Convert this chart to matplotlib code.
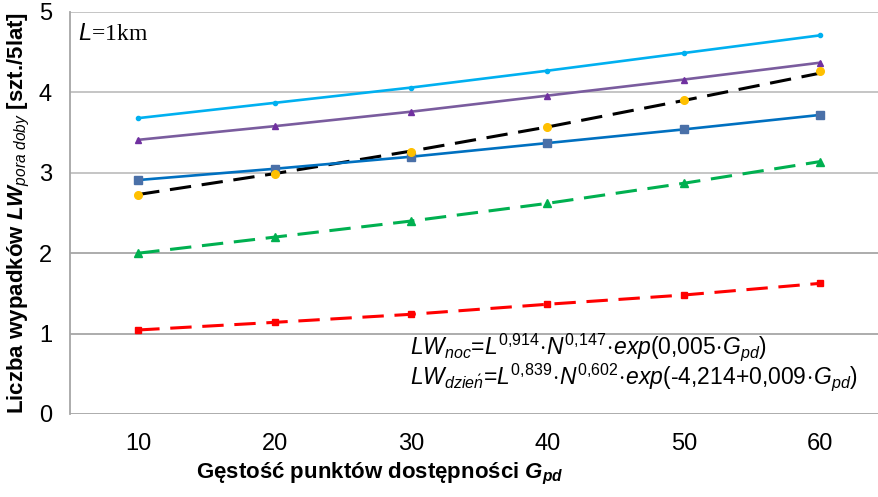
import numpy as np
import matplotlib
matplotlib.use("Agg")
import matplotlib.pyplot as plt

plt.rcParams['font.family'] = ['Liberation Sans', 'DejaVu Sans']
plt.rcParams['mathtext.fontset'] = 'custom'
plt.rcParams['mathtext.rm'] = 'Liberation Sans'
plt.rcParams['mathtext.it'] = 'Liberation Sans:italic'
plt.rcParams['mathtext.bf'] = 'Liberation Sans:bold'
plt.rcParams['mathtext.bfit'] = 'Liberation Sans:bold:italic'

# data
gpd = [10, 20, 30, 40, 50, 60]
light_blue = [3.68, 3.87, 4.06, 4.27, 4.49, 4.71]
purple = [3.41, 3.58, 3.76, 3.96, 4.16, 4.37]
blue = [2.91, 3.05, 3.20, 3.37, 3.54, 3.72]
yellow_pts = [2.73, 2.985, 3.26, 3.57, 3.905, 4.27]
black_fit = [2.73, 2.99, 3.27, 3.57, 3.90, 4.24]
green = [2.00, 2.20, 2.40, 2.62, 2.87, 3.14]
red = [1.045, 1.14, 1.24, 1.365, 1.48, 1.625]
yticks = [0, 1, 2, 3, 4, 5]

fig = plt.figure(figsize=(8.79, 4.97), dpi=100)
ax = fig.add_axes([70/879, 83/497, 809/879, 402/497])

ax.plot(gpd, light_blue, color='#00b0f0', lw=1.9, marker='o', ms=3, zorder=5)
ax.plot(gpd, purple, color='#7a5c9e', lw=1.9, marker='^', ms=4, mfc='#7030a0', mec='#7030a0', zorder=5)
ax.plot(gpd, blue, color='#0070c0', lw=1.9, marker='s', ms=5.5, mfc='#4a70a8', mec='#4a70a8', zorder=5)
ax.plot(gpd, black_fit, color='black', lw=2.2, ls=(0, (7, 3.5)), zorder=4)
ax.plot(gpd, yellow_pts, ls='none', marker='o', ms=5.5, color='#ffc000', zorder=6)
ax.plot(gpd, green, color='#00b050', lw=2.2, ls=(0, (7, 3.5)), marker='^', ms=5.5, zorder=5)
ax.plot(gpd, red, color='#ff0000', lw=2.2, ls=(0, (7, 3.5)), marker='s', ms=5, zorder=5)

ax.set_xlim(5, 64.3)
ax.set_ylim(0, 5)
ax.set_xticks(gpd)
ax.set_yticks(yticks)
ax.tick_params(axis='both', length=0, labelsize=17, colors='black')
ax.tick_params(axis='y', pad=13)
ax.tick_params(axis='x', pad=14)

ax.grid(axis='y', lw=1.3)
for val, gl in zip(yticks, ax.yaxis.get_gridlines()):
    gl.set_color('#a6a6a6' if val <= 2 else '#c0c0c0')
for side in ['top', 'right', 'bottom']:
    ax.spines[side].set_visible(False)
ax.spines['left'].set_color('#a6a6a6')
ax.spines['left'].set_linewidth(1.3)

ax.set_ylabel(r'Liczba wypadków $\mathbfit{LW}_{\mathit{pora\ doby}}$ [szt./5lat]',
              fontsize=16, fontweight='bold', labelpad=5)
fig.text(380/879, 23/497, r'Gęstość punktów dostępności $\mathbfit{G}_{\mathbfit{pd}}$',
         fontsize=16, fontweight='bold', ha='center', va='center')

fig.text(78/879, 463/497, r'$L$=1km', fontsize=17, family='Liberation Serif',
         va='center', ha='left')

f1 = (r'$LW_{noc}\text{=}L^{\text{0,914}}\!\cdot\! N^{\text{0,147}}\!\cdot\!'
      r' exp\mathit{(}\text{0,005}\!\cdot\! G_{pd}\mathit{)}$')
f2 = (r'$LW_{dzie\acute{n}}\text{=}L^{\text{0,839}}\!\cdot\! N^{\text{0,602}}\!\cdot\!'
      r' exp\mathit{(}\text{-4,214+0,009}\!\cdot\! G_{pd}\mathit{)}$')
fig.text(410/879, 150/497, f1, fontsize=16.5, ha='left', va='center')
fig.text(410/879, 120/497, f2, fontsize=16.5, ha='left', va='center')

fig.savefig('out.png', dpi=100)
